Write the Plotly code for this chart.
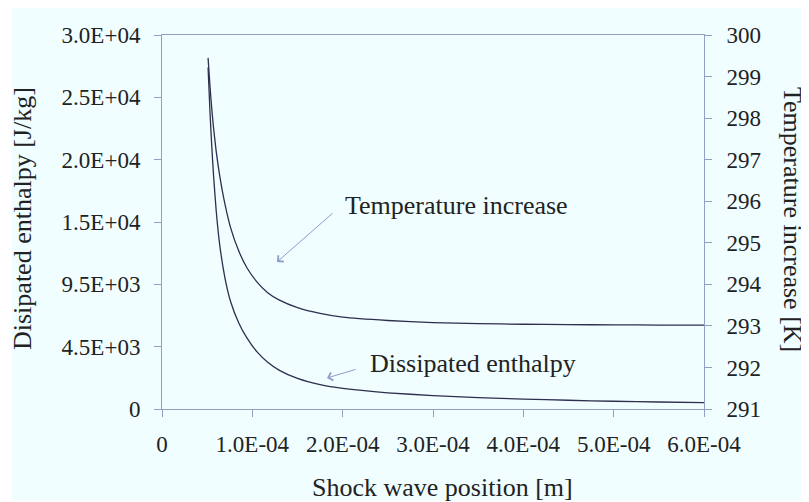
import plotly.graph_objects as go

# Data
x_pos = [0.51e-4, 0.53e-4, 0.55e-4, 0.57e-4, 0.60e-4, 0.64e-4, 0.70e-4, 0.76e-4,
         0.85e-4, 0.94e-4, 1.05e-4, 1.17e-4, 1.30e-4, 1.50e-4, 1.75e-4, 2.00e-4,
         2.50e-4, 3.00e-4, 3.50e-4, 4.00e-4, 4.50e-4, 5.00e-4, 5.50e-4, 6.00e-4]
enthalpy = [27400, 24000, 21200, 18800, 15900, 13100, 10400, 8600,
            6900, 5700, 4600, 3750, 3100, 2450, 1950, 1650,
            1300, 1080, 920, 800, 700, 620, 560, 510]
temperature = [299.45, 298.80, 298.25, 297.78, 297.20, 296.60, 295.90, 295.36,
               294.80, 294.40, 294.06, 293.80, 293.62, 293.44, 293.30, 293.21,
               293.13, 293.08, 293.055, 293.04, 293.03, 293.025, 293.02, 293.02]

x_ticks = [0, 1e-4, 2e-4, 3e-4, 4e-4, 5e-4, 6e-4]
x_ticktext = ["0", "1.0E-04", "2.0E-04", "3.0E-04", "4.0E-04", "5.0E-04", "6.0E-04"]
y_ticks = [0, 5000, 10000, 15000, 20000, 25000, 30000]
y_ticktext = ["0", "4.5E+03", "9.5E+03", "1.5E+04", "2.0E+04", "2.5E+04", "3.0E+04"]
y2_ticks = [291, 292, 293, 294, 295, 296, 297, 298, 299, 300]

BG = "#F0FEFF"
AXIS = "#8FA0C2"
LINE = "#2E2E4E"
TXT = "#222222"
FONT = "Liberation Serif, Tinos, Times New Roman, DejaVu Serif, serif"

# page offset (browser body margin)
OFF = 8
FW, FH = 809 - OFF, 502 - OFF

fig = go.Figure()
fig.add_trace(go.Scatter(x=x_pos, y=enthalpy, mode="lines", name="Dissipated enthalpy",
                         line=dict(color=LINE, width=1.3, shape="spline", smoothing=0.5),
                         yaxis="y"))
fig.add_trace(go.Scatter(x=x_pos, y=temperature, mode="lines", name="Temperature increase",
                         line=dict(color=LINE, width=1.3, shape="spline", smoothing=0.5),
                         yaxis="y2"))

# plot area in reference page pixels: x 162..704, y 35..409
L, R, T, B = 162, 704, 35, 409
W, H = R - L, B - T

def px(xp):
    return (xp - L) / W

def py(yp):
    return (B - yp) / H

def axis_common(size=23):
    return dict(showline=True, linecolor=AXIS, linewidth=1, ticks="outside",
                ticklen=7, tickcolor=AXIS, showgrid=False, zeroline=False,
                tickfont=dict(family=FONT, size=size, color=TXT))

fig.update_layout(
    width=FW, height=FH,
    margin=dict(l=L - OFF, r=FW - (R - OFF), t=T - OFF, b=FH - (B - OFF), pad=0),
    paper_bgcolor="white",
    plot_bgcolor="rgba(0,0,0,0)",
    showlegend=False,
    font=dict(family=FONT, color=TXT),
    xaxis=dict(range=[0, 6e-4], tickvals=x_ticks, ticktext=x_ticktext, mirror=True,
               ticklabelstandoff=7, **axis_common()),
    yaxis=dict(range=[0, 30000], tickvals=y_ticks, ticktext=y_ticktext,
               ticklabelstandoff=9, **axis_common()),
    yaxis2=dict(range=[291, 300], tickvals=y2_ticks, overlaying="y", side="right",
                ticklabelstandoff=10, **axis_common()),
    shapes=[dict(type="rect", xref="paper", yref="paper",
                 x0=px(12), x1=px(806), y0=py(500), y1=py(5),
                 fillcolor=BG, line=dict(width=0), layer="below")],
)

def label(text, x, y, angle=0, xanchor="center", size=26):
    return dict(text=text, xref="paper", yref="paper", x=px(x), y=py(y),
                textangle=angle, showarrow=False, xanchor=xanchor, yanchor="middle",
                font=dict(size=size, family=FONT, color=TXT))

annos = [
    label("Disipated enthalpy [J/kg]", 22, 219, -90),
    label("Temperature increase [K]", 793, 219, 90),
    label("Shock wave position [m]", 442, 487),
    label("Temperature increase", 343, 205, xanchor="left"),
    label("Dissipated enthalpy", 368, 363, xanchor="left"),
    dict(text="", xref="paper", yref="paper", x=px(277), y=py(262), ax=57, ay=-50,
         showarrow=True, arrowhead=4, arrowsize=1.6, arrowwidth=1, arrowcolor="#8E9CCB"),
    dict(text="", xref="paper", yref="paper", x=px(327), y=py(378), ax=30, ay=-9,
         showarrow=True, arrowhead=4, arrowsize=1.6, arrowwidth=1, arrowcolor="#8E9CCB"),
]
fig.update_layout(annotations=annos)

fig.write_html("out.html")
